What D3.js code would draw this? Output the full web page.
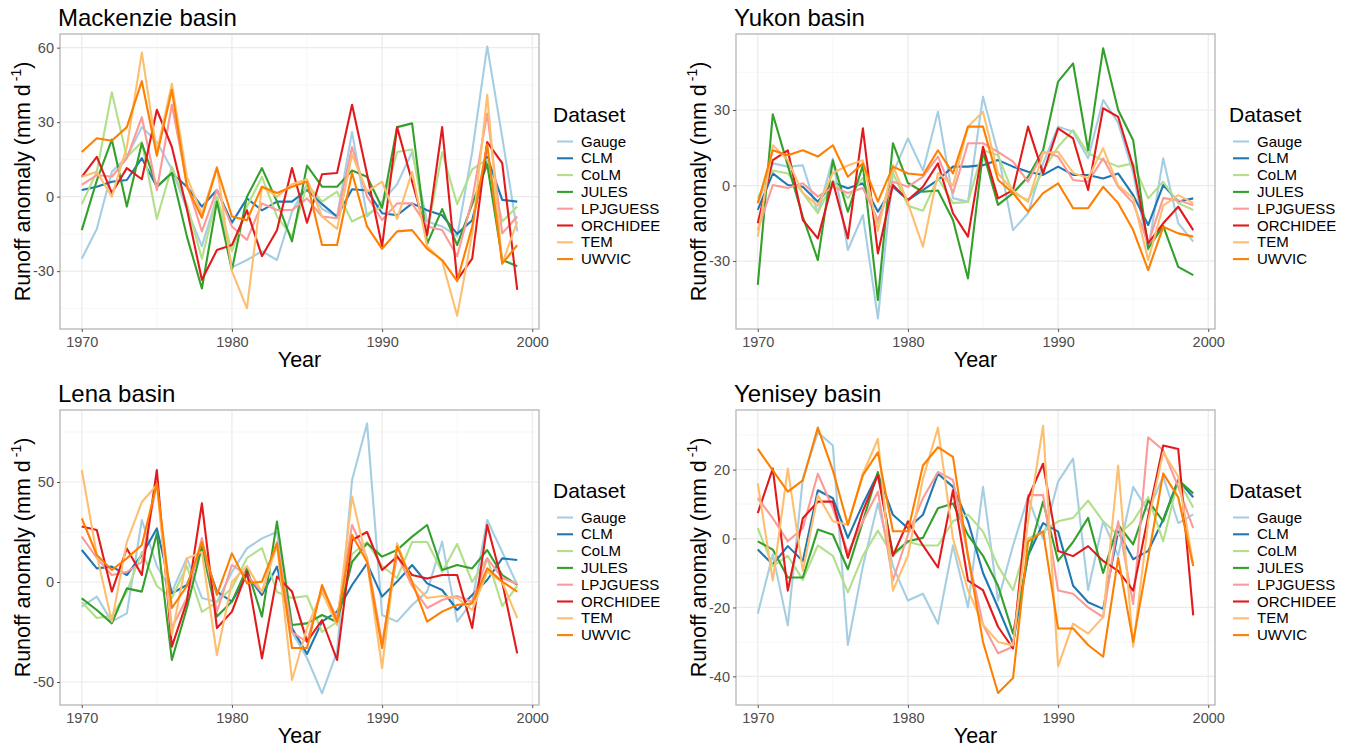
<!DOCTYPE html>
<html><head><meta charset="utf-8">
<script src="https://cdn.jsdelivr.net/npm/d3@7"></script>
<style>
body{margin:0;background:#fff}
svg{display:block}
text{font-family:"Liberation Sans", Arial, Helvetica, sans-serif}
</style>
</head><body>
<svg id="chart" width="1348" height="748"></svg>
<script>
// ---------- categories / ticks ----------
const years = [1970,1971,1972,1973,1974,1975,1976,1977,1978,1979,1980,1981,1982,1983,1984,1985,1986,1987,1988,1989,1990,1991,1992,1993,1994,1995,1996,1997,1998,1999];
const seriesNames = ["Gauge","CLM","CoLM","JULES","LPJGUESS","ORCHIDEE","TEM","UWVIC"];
const seriesColors = ["#A6CEE3","#1F78B4","#B2DF8A","#33A02C","#FB9A99","#E31A1C","#FDBF6F","#FF7F00"];
const xTickValues = [1970,1980,1990,2000];
const xMinorValues = [1975,1985,1995];

// ---------- Mackenzie ----------
const mackenzieGauge    = [-25,-13,10,16,28,22,11,-5,-20,0,-28.5,-25.5,-22,-25.5,-6,5,-5,-8,26,-8,-2,5,18,-10,-12,-16,18,60.5,24,-14];
const mackenzieCLM      = [2.7,4,6,6.7,15.5,4,9.5,4,-4,2.7,-10.5,-0.7,-5.5,-2,-2,2.7,-3,-8,3,2.5,-6.7,-7.5,-2.7,-5.5,-7.5,-15,-9.5,16,-1.3,-2];
const mackenzieCoLM     = [-3,10,42,16,22,-9,12,-3,-25,0,-22,-4,8,-8,-16,5,-2,2,-10,-7,-4,18,19,-15,18,-3,11,15,-10,-4];
const mackenzieJULES    = [-13.5,6.5,23,-4,21.5,4,9.5,-16,-37,-2,-29.5,0,11.5,-2,-18,12.5,4,4,10.5,8,-4.5,28,29.5,-19,-5,-19.5,-3,13,-25.5,-28];
const mackenzieLPJGUESS = [4.7,8.7,8,15.4,32,2.7,37,5.4,-14,2.7,-12,-17.4,-2.7,-5.4,-5.4,-0.7,-8,-8.7,20,0,-9.4,-2.7,-2.7,-12,-13.4,-24,-1.3,33.5,-14.8,-8];
const mackenzieORCHIDEE = [8,16,1.5,11.5,7,35,20,-5,-33.5,-21.5,-19.5,-5.5,-24,-13.5,11.5,-10.5,9,9.5,37,9,-20,28,6,-15.5,28,-33.5,-25,22,13.5,-37.5];
const mackenzieTEM      = [8,10,0,20,58,18,45.5,8,-7,12,-30,-45,4,0,5,7,-8,-13,17,2,6,-9,10,-20,-26,-48,-15,41,-27,-10];
const mackenzieUWVIC    = [18,23.5,22.5,28,46.5,16.5,43,4,-8.5,11.5,-8,-9.5,4,1.5,4,6,-19.5,-19.5,9.5,-12,-21,-14,-13.5,-21,-25.5,-34,-12,21,-27,-19.5];
const mackenzieYTicks = [-30,0,30,60];
const mackenzieYMinor = [-45,-15,15,45];

// ---------- Yukon ----------
const yukonGauge    = [-7,8.8,7.5,8,-11,10.7,-25.6,-11.7,-52.8,4.8,18.7,6,29.3,-5,-6.5,35.3,12.8,-17.7,-11,8.8,23.4,21.4,10.8,34,25,5,-25.6,10.8,-15,-22.3];
const yukonCLM      = [-9.7,4.8,0.2,-0.5,-6.4,1.1,-1.1,0.9,-10.4,-0.5,-5.8,-1.8,2.2,7.5,7.5,8.1,10.1,7.5,5.5,4.2,7.5,4.2,4.2,2.8,4.8,-3.8,-15.7,0.2,-6.4,-5.1];
const yukonCoLM     = [-5,6,4.8,-3,-11,2,-5,3,-15,5,-8,-10,3,-7,-6.5,14,12,-3,-5.8,6,15.4,22,12.8,10,7.5,8.8,-5.1,1.5,-7,-9.7];
const yukonJULES    = [-39.5,28.3,8,-12.4,-29.6,10,-10.4,8,-45.5,16.8,1,-2.5,-2,-13.7,-36.9,13.4,-7.7,-3,3.5,14,41.3,48.5,14,54.5,30,18,-25,-16,-32.3,-35.6];
const yukonLPJGUESS = [-17.7,0.2,-1,0.9,-4.4,-0.5,-3,-1,-13.7,1.5,-0.5,3.5,11.5,-3,16.8,16.8,13.4,9.5,1.5,13.4,11.5,2.2,1.5,10.8,-0.5,-7,-23,-5,-5.8,-7.8];
const yukonORCHIDEE = [-15,10.1,14,-13.7,-21,1.5,-21,22.7,-27,0.2,-5.8,-0.5,8.8,-11,-20.3,15.4,-5.1,-1.8,23.4,4.8,22.7,18.7,-1.8,30.7,27.3,7.5,-23,-15,-8.4,-17.7];
const yukonTEM      = [-20.3,16,10,-3,-8,5,8,10,-18,8,-7,-24.3,5,0,23.4,29.3,4.8,-2,-6.5,12.8,13.4,5,3,14.8,0,-5,-29.6,-8,-3.8,-7];
const yukonUWVIC    = [-7,14,12,14,11.5,16,3.5,8.8,-6.4,7.5,4.8,4.2,14,4.8,23.4,23.4,2.2,-3,-10.4,-3,0.9,-9,-9,-0.5,-7,-17.7,-33.6,-16.4,-19,-20.3];
const yukonYTicks = [-30,0,30];
const yukonYMinor = [-45,-15,15,45];

// ---------- Lena ----------
const lenaGauge    = [-12.3,-7.3,-19.8,-15.7,31,8,-5,12,-8,-10,5,16.8,21.8,25,-25,-38,-55.7,-34.8,51,79.3,-16.5,-19.8,-11.5,-4.8,20.2,-19.8,-9.8,31,15,-1.5];
const lenaCLM      = [16,6.8,7.7,3.5,13.5,26.8,-5.7,-1.5,16.8,-4.8,-9.8,3.5,-6.5,7.7,-23,-36,-19.8,-14.8,-1.5,9.3,-7.3,0.2,8.5,-0.7,-4,-14,-6.5,1,11.8,11];
const lenaCoLM     = [-10,-18,-17,-5,15,-2,-8,8,-15,-10,-3,12,17,-5,-8,-7,-25,-20,14,20,8,2,20,20,5,19,0,12,-12,-2];
const lenaJULES    = [-8.2,-14,-20.7,-3.2,-4.8,24.3,-39,-13,17.7,-17.3,-9.8,6.8,-17.3,30.2,-21.5,-20.7,-16.5,-20,10,19.3,12.7,16,22.7,28.5,6,8.5,6.8,16,3.5,-1.5];
const lenaLPJGUESS = [22.7,12,3.5,5,10,50,-23,-8,22,-14.8,8.5,3.5,-5,20,-25,-30,-3,-18,28.5,12,-30.7,13.5,-2,-13,-9,-7,-10,11.8,2,-1];
const lenaORCHIDEE = [27.7,26,-4.8,16.8,3.5,56,-32.3,-9.8,39.3,-23,-14.8,5.2,-38.2,2.7,-4.8,-29.8,-19,-39,21,25,6,12.7,3.5,1.8,3.5,3.5,-23,28.5,0,-35.7];
const lenaTEM      = [56,13.5,-19.8,20,40,48.5,-26.5,11.8,15,-36.5,0,8,-5,18.5,-49,-23,-5,-21.5,42.7,10,-43,19.3,0,-8,-7,-8,-14,5,0,-18];
const lenaUWVIC    = [31.8,13.5,6,11.8,18.5,49.3,-13,-2,20,-6.5,14.3,-0.7,0.2,19.3,-33,-33,-1.5,-20,23.5,10,-33,17.7,0,-19.8,-14.8,-11.5,-10.7,6.8,0.2,-4.8];
const lenaYTicks = [-50,0,50];
const lenaYMinor = [-25,25,75];

// ---------- Yenisey ----------
const yeniseyGauge    = [-21.8,-4.6,-25.2,17.4,30.8,27,-30.9,-8,10.2,-8,-18,-16,-24.7,-2,-20,15,-18,-2,12,0,16.5,23.2,-15,5,-5,15,8,18,4.5,7];
const yeniseyCLM      = [-3.2,-7.5,-2.2,-6.5,14,11.7,0.2,10,18.8,6.9,3,6.9,18.8,15,5,-10,-20,-30.4,-5,4.5,2,-13.7,-18.5,-20.4,2,-6,-3.6,5.5,17,12];
const yeniseyCoLM     = [3,-8,-5,-12,-2,-5,-15.6,-5,2.3,-5,-1,-2,-2,5,7,2,-8,-15,0,2,5,6,11,5,1,5,12,-0.8,17,9];
const yeniseyJULES    = [-0.8,-3.2,-11.3,-11.3,2.6,1.1,-8.9,5,19.3,-4.6,-0.8,0.2,8.8,10.2,1,-5,-13.7,-27.6,-5,10.7,-6.5,-1,6,-10,4,-1.7,11,5,17,13.1];
const yeniseyLPJGUESS = [11.7,5.9,-0.8,3,18.8,8.8,-4.1,5,13.6,-12.2,1.1,11.7,19.3,17,-5,-25,-33.3,-31.4,12.6,12.6,-15.1,-16,-20,-22.8,5,-19,29.4,25.6,15,3];
const yeniseyORCHIDEE = [7.4,20.3,-15.1,5.9,10.7,10.7,-5.6,8,18.4,-5,5,-2,-8.4,14,-12.2,-15,-25.6,-31.9,11.7,21.7,-3.6,-5.1,-2.2,-6.5,-9.4,-15.1,6.4,27,26,-22.3];
const yeniseyTEM      = [16,-12.2,20.3,-9.4,12.6,5,4,18.8,28.9,-15.1,-5,17.4,32.2,0,-15,-25,-30,-31,5,32.7,-37.1,-24.7,-27.6,-22.8,21.2,-31.4,5,25,18,-7.5];
const yeniseyUWVIC    = [26,19.8,13.6,16.9,32.2,19.8,4,18.4,25,2.1,2.1,21.2,26.5,23.7,-5,-30,-44.8,-40.5,-0.8,2.1,-26.1,-26.1,-30.9,-34.3,-5.6,-30,-5.6,18.9,12,-8];
const yeniseyYTicks = [-40,-20,0,20];
const yeniseyYMinor = [-30,-10,10,30];

// ---------- panel configuration ----------
const panels = [
  {title:"Mackenzie basin", series:[mackenzieGauge,mackenzieCLM,mackenzieCoLM,mackenzieJULES,mackenzieLPJGUESS,mackenzieORCHIDEE,mackenzieTEM,mackenzieUWVIC],
   yTicks:mackenzieYTicks, yMinor:mackenzieYMinor, yDomain:[-53.3,65.5], left:60, top:34, height:295},
  {title:"Yukon basin", series:[yukonGauge,yukonCLM,yukonCoLM,yukonJULES,yukonLPJGUESS,yukonORCHIDEE,yukonTEM,yukonUWVIC],
   yTicks:yukonYTicks, yMinor:yukonYMinor, yDomain:[-57,60.2], left:736, top:34, height:295},
  {title:"Lena basin", series:[lenaGauge,lenaCLM,lenaCoLM,lenaJULES,lenaLPJGUESS,lenaORCHIDEE,lenaTEM,lenaUWVIC],
   yTicks:lenaYTicks, yMinor:lenaYMinor, yDomain:[-61.5,86], left:60, top:410, height:295},
  {title:"Yenisey basin", series:[yeniseyGauge,yeniseyCLM,yeniseyCoLM,yeniseyJULES,yeniseyLPJGUESS,yeniseyORCHIDEE,yeniseyTEM,yeniseyUWVIC],
   yTicks:yeniseyYTicks, yMinor:yeniseyYMinor, yDomain:[-48.3,37.3], left:736, top:410, height:295}
];
const plotWidth = 479;
const xDomain = [1968.55, 2000.45];

const svg = d3.select("#chart");
svg.append("rect").attr("width",1348).attr("height",748).attr("fill","#fff");

panels.forEach(p => {
  const L = p.left, T = p.top, W = plotWidth, H = p.height;
  const x = d3.scaleLinear().domain(xDomain).range([L, L + W]);
  const y = d3.scaleLinear().domain(p.yDomain).range([T + H, T]);
  const g = svg.append("g");

  // minor grid
  g.selectAll(null).data(xMinorValues).enter().append("line")
    .attr("x1", d => x(d)).attr("x2", d => x(d)).attr("y1", T).attr("y2", T + H)
    .attr("stroke", "#F3F3F3").attr("stroke-width", 0.7);
  g.selectAll(null).data(p.yMinor).enter().append("line")
    .attr("x1", L).attr("x2", L + W).attr("y1", d => y(d)).attr("y2", d => y(d))
    .attr("stroke", "#F3F3F3").attr("stroke-width", 0.7);
  // major grid
  g.selectAll(null).data(xTickValues).enter().append("line")
    .attr("x1", d => x(d)).attr("x2", d => x(d)).attr("y1", T).attr("y2", T + H)
    .attr("stroke", "#EBEBEB").attr("stroke-width", 1.2);
  g.selectAll(null).data(p.yTicks).enter().append("line")
    .attr("x1", L).attr("x2", L + W).attr("y1", d => y(d)).attr("y2", d => y(d))
    .attr("stroke", "#EBEBEB").attr("stroke-width", 1.2);

  // series lines
  const line = d3.line().x((d, i) => x(years[i])).y(d => y(d));
  p.series.forEach((vals, k) => {
    g.append("path").datum(vals).attr("d", line)
      .attr("fill", "none").attr("stroke", seriesColors[k])
      .attr("stroke-width", 2.1).attr("stroke-linejoin", "round");
  });

  // border
  g.append("rect").attr("x", L).attr("y", T).attr("width", W).attr("height", H)
    .attr("fill", "none").attr("stroke", "#B5B5B5").attr("stroke-width", 1.3);

  // axes
  const xAxis = g.append("g").attr("transform", `translate(0,${T + H})`)
    .call(d3.axisBottom(x).tickValues(xTickValues).tickSize(3).tickPadding(5).tickFormat(d => String(d)));
  const yAxis = g.append("g").attr("transform", `translate(${L},0)`)
    .call(d3.axisLeft(y).tickValues(p.yTicks).tickSize(3).tickPadding(3).tickFormat(d => String(d)));
  [xAxis, yAxis].forEach(a => {
    a.select(".domain").remove();
    a.selectAll(".tick line").attr("stroke", "#555").attr("stroke-width", 1);
    a.selectAll(".tick text").attr("fill", "#4D4D4D").style("font-size", "14.5px")
      .style("font-family", '"Liberation Sans", Arial, sans-serif');
  });

  // title
  g.append("text").attr("x", L - 2).attr("y", T - 8).text(p.title)
    .style("font-size", "24px").attr("fill", "#000");

  // x axis title
  g.append("text").attr("x", L + W / 2).attr("y", T + H + 38).attr("text-anchor", "middle")
    .style("font-size", "21.5px").attr("fill", "#000").text("Year");

  // y axis title
  const yt = g.append("text")
    .attr("transform", `translate(${L - 30},${T + H / 2}) rotate(-90)`)
    .attr("text-anchor", "middle").style("font-size", "21.5px").attr("fill", "#000");
  yt.append("tspan").text("Runoff anomaly (mm d");
  yt.append("tspan").attr("dy", -9).attr("dx", 3).style("font-size", "14px").text("-1");
  yt.append("tspan").attr("dy", 9).text(")");

  // legend
  const lx = L + W + 14;
  const firstKey = T + H / 2 - 40;
  g.append("text").attr("x", lx).attr("y", firstKey - 19.5).style("font-size", "21px").attr("fill", "#000").text("Dataset");
  seriesNames.forEach((name, k) => {
    const cy = firstKey + k * 16.8;
    g.append("line").attr("x1", lx + 4).attr("x2", lx + 20).attr("y1", cy).attr("y2", cy)
      .attr("stroke", seriesColors[k]).attr("stroke-width", 2.1);
    g.append("text").attr("x", lx + 28).attr("y", cy + 5).style("font-size", "15px")
      .attr("fill", "#000").text(name);
  });
});
</script>
</body></html>
